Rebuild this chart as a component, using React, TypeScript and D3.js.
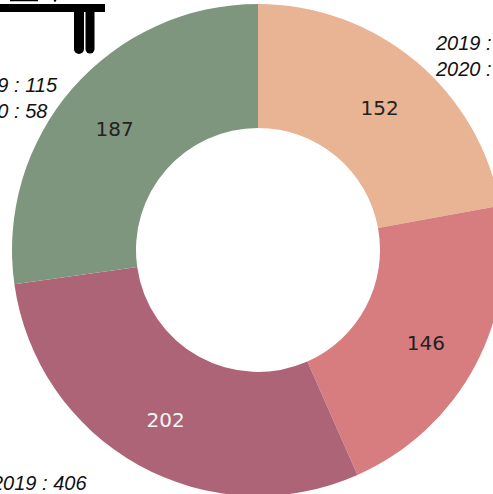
import React from "react";
import * as d3 from "d3";

const categories = ["A", "B", "C", "D"];
const values = [152, 146, 202, 187];
const colors = ["#e8b494", "#d77d80", "#ac6476", "#7e967e"];
const labelColors = ["#222222", "#222222", "#f4f4f4", "#222222"];

const noteLines2019 = ["2019 : 120", "", "2019 : 406", "2019 : 115"];
const noteLines2020 = ["2020 : 32", "", "2020 : 96", "2020 : 58"];

const W = 493;
const H = 494;
const cx = 258;
const cy = 250;
const outerR = 246;
const innerR = 122;
const labelR = 190;

// annotation anchor positions (layout only)
const notePos: [number, number][] = [
  [436, 50],
  [600, 600],
  [-8, 490],
  [-36, 92],
];

export default function App() {
  const pie = d3.pie<number>().sort(null).value((d) => d);
  const arcs = pie(values);
  const arc = d3.arc<d3.PieArcDatum<number>>().innerRadius(innerR).outerRadius(outerR);
  const labelArc = d3.arc<d3.PieArcDatum<number>>().innerRadius(labelR).outerRadius(labelR);

  return (
    <svg
      width={W}
      height={H}
      style={{ position: "absolute", left: 0, top: 0, background: "#fff" }}
    >
      <g transform={`translate(${cx},${cy})`}>
        {arcs.map((a, i) => (
          <path key={categories[i]} d={arc(a) || ""} fill={colors[i]} />
        ))}
        {arcs.map((a, i) => {
          const [x, y] = labelArc.centroid(a);
          return (
            <text
              key={"l" + i}
              x={x}
              y={y + 4}
              textAnchor="middle"
              dominantBaseline="central"
              fontFamily="DejaVu Sans, Verdana, sans-serif"
              fontSize={20}
              fill={labelColors[i]}
            >
              {values[i]}
            </text>
          );
        })}
      </g>
      {notePos.map((p, i) =>
        noteLines2019[i] ? (
          <text
            key={"n" + i}
            fontFamily="Liberation Sans, Arial, sans-serif"
            fontStyle="italic"
            fontSize={20}
            fill="#111"
          >
            <tspan x={p[0]} y={p[1]}>
              {noteLines2019[i]}
            </tspan>
            <tspan x={p[0]} y={p[1] + 26}>
              {noteLines2020[i]}
            </tspan>
          </text>
        ) : null
      )}
      <g fill="#000" stroke="#000">
        <line x1={10} y1={0.5} x2={38} y2={0.5} strokeWidth={1.5} />
        <circle cx={55} cy={0.5} r={1.2} stroke="none" />
        <rect x={0} y={4} width={105} height={8} stroke="none" />
        <line x1={79} y1={10} x2={79} y2={49} strokeWidth={10} strokeLinecap="round" />
        <line x1={90} y1={10} x2={90} y2={49} strokeWidth={9} strokeLinecap="round" />
      </g>
    </svg>
  );
}
